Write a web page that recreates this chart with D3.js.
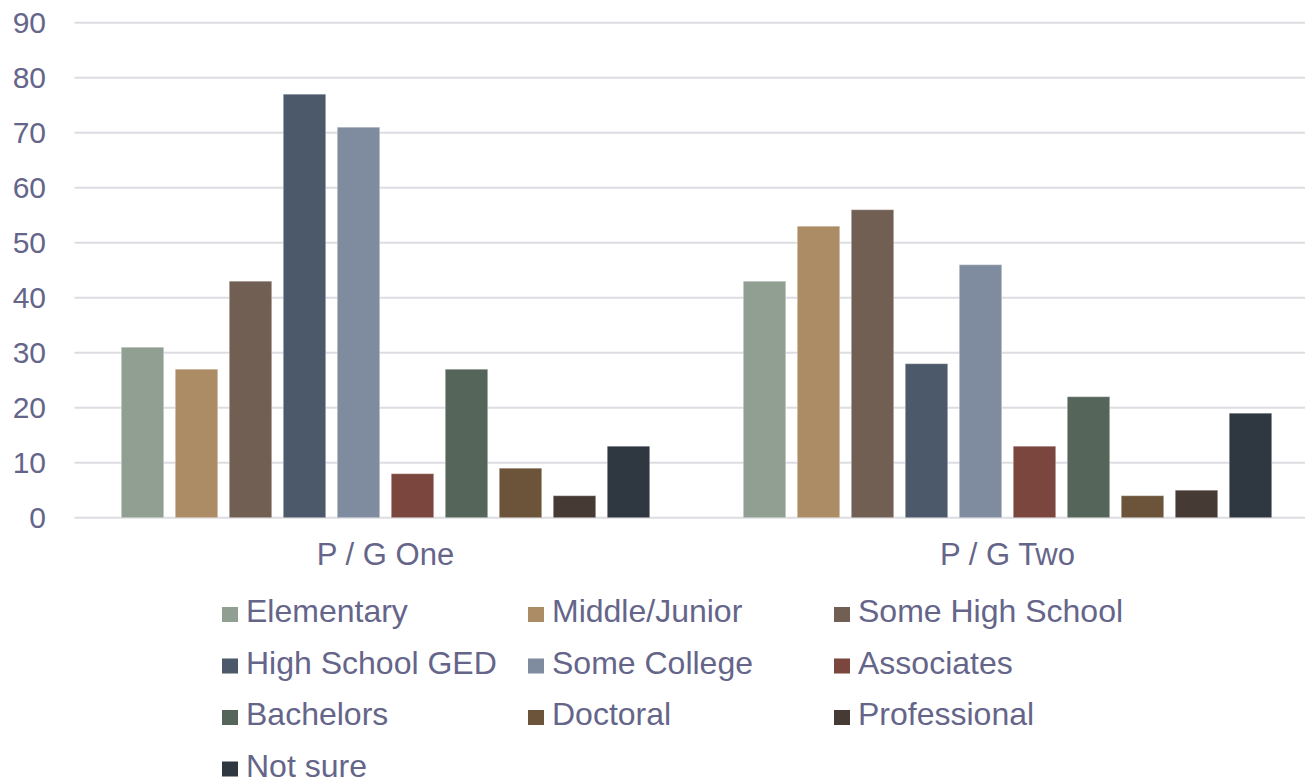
<!DOCTYPE html>
<html>
<head>
<meta charset="utf-8">
<script src="https://cdn.jsdelivr.net/npm/d3@7"></script>
<style>
  html, body { margin: 0; padding: 0; background: #fff; }
  svg { display: block; }
  text { font-family: "Liberation Sans", Arial, sans-serif; }
</style>
</head>
<body>
<svg id="chart" width="1305" height="782"></svg>
<script>
// Groups along the x axis
const groups = ["P / G One", "P / G Two"];

// Education levels (one bar per level in each group)
const levels = [
  "Elementary", "Middle/Junior", "Some High School",
  "High School GED", "Some College", "Associates",
  "Bachelors", "Doctoral", "Professional", "Not sure"
];

// Counts per level, in group order
const groupOneValues = [31, 27, 43, 77, 71, 8, 27, 9, 4, 13];
const groupTwoValues = [43, 53, 56, 28, 46, 13, 22, 4, 5, 19];

const levelColors = [
  "#919F93", "#AB8C64", "#715F54", "#4B596A", "#7F8B9E",
  "#7A463D", "#56655A", "#6B5439", "#463A34", "#2F3741"
];

const yTicks = [0, 10, 20, 30, 40, 50, 60, 70, 80, 90];

const textColor = "#65658A";
const gridColor = "#DCDCE3";

const seriesByGroup = [groupOneValues, groupTwoValues];
const rows = groups.map((g, gi) => ({
  group: g,
  bars: levels.map((l, li) => ({ level: l, value: seriesByGroup[gi][li] }))
}));

const svg = d3.select("#chart");

const y = d3.scaleLinear().domain([0, 90]).range([517.7, 22.7]);
const x0 = d3.scaleBand().domain(groups).range([74.5, 1318.5]).paddingInner(0).paddingOuter(0);
const x1 = d3.scaleBand().domain(levels).range([0, x0.bandwidth()])
  .paddingInner(0.213).paddingOuter(0.866);
const color = d3.scaleOrdinal().domain(levels).range(levelColors);

// Horizontal gridlines
svg.append("g")
  .selectAll("line")
  .data(yTicks)
  .join("line")
  .attr("x1", 74.5)
  .attr("x2", 1305)
  .attr("y1", d => y(d))
  .attr("y2", d => y(d))
  .attr("stroke", gridColor)
  .attr("stroke-width", 2);

// Y axis labels
const yAxis = d3.axisLeft(y).tickValues(yTicks).tickSize(0).tickPadding(0);
const yg = svg.append("g").attr("transform", "translate(46,0)").call(yAxis);
yg.select(".domain").remove();
yg.selectAll("text")
  .attr("fill", textColor)
  .attr("font-size", 30);

// Bars
const gGroups = svg.append("g")
  .selectAll("g")
  .data(rows)
  .join("g")
  .attr("transform", d => `translate(${x0(d.group)},0)`);

gGroups.selectAll("rect")
  .data(d => d.bars)
  .join("rect")
  .attr("x", d => x1(d.level))
  .attr("width", x1.bandwidth())
  .attr("y", d => y(d.value))
  .attr("height", d => y(0) - y(d.value))
  .attr("fill", d => color(d.level))
  .attr("stroke", "rgba(255,255,255,0.35)")
  .attr("stroke-width", 1);

// Group labels
const xAxis = d3.axisBottom(x0).tickSize(0).tickPadding(0);
const xg = svg.append("g").attr("transform", "translate(0,543)").call(xAxis);
xg.select(".domain").remove();
xg.selectAll("text")
  .attr("fill", textColor)
  .attr("font-size", 31);

// Legend: three columns
const legend = svg.append("g")
  .selectAll("g")
  .data(levels)
  .join("g")
  .attr("transform", (d, i) => `translate(${222 + (i % 3) * 306},${622 + Math.floor(i / 3) * 51.5})`);

legend.append("rect")
  .attr("x", 0)
  .attr("y", -15)
  .attr("width", 16)
  .attr("height", 15)
  .attr("fill", d => color(d));

legend.append("text")
  .attr("x", 24)
  .attr("y", 0)
  .attr("fill", textColor)
  .attr("font-size", 32)
  .text(d => d);
</script>
</body>
</html>
